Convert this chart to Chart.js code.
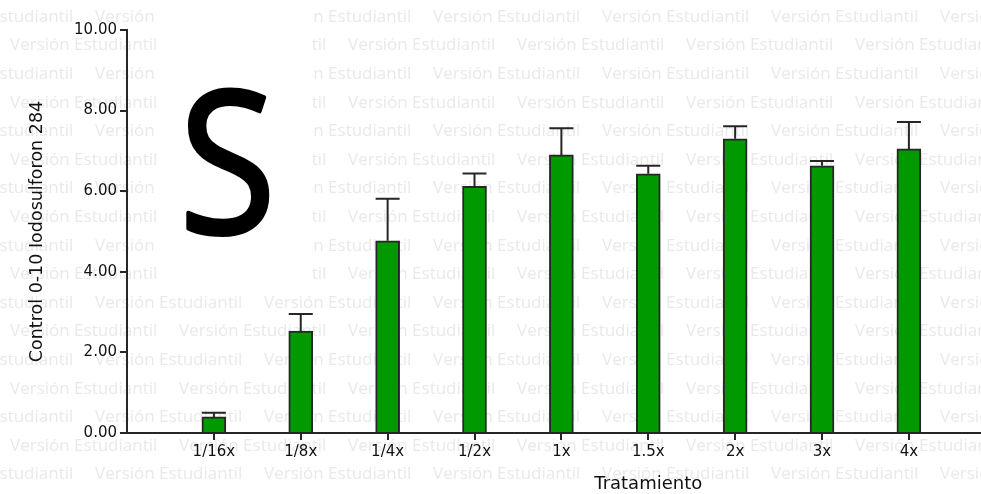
<!DOCTYPE html>
<html>
<head>
<meta charset="utf-8">
<script src="https://cdn.jsdelivr.net/npm/chart.js@4.4.0/dist/chart.umd.min.js"></script>
<style>
  html, body { margin: 0; padding: 0; background: #fff; }
  #wrap { width: 981px; height: 494px; }
</style>
</head>
<body>
<div id="wrap"><canvas id="chart" width="981" height="494"></canvas></div>
<script>
const treatments = ["1/16x", "1/8x", "1/4x", "1/2x", "1x", "1.5x", "2x", "3x", "4x"];
const means = [0.40, 2.53, 4.77, 6.12, 6.90, 6.43, 7.30, 6.63, 7.05];
const errs = [0.10, 0.42, 1.04, 0.32, 0.66, 0.20, 0.31, 0.12, 0.67];
const yTicks = [0, 2, 4, 6, 8, 10];

const watermark = "Versión Estudiantil";
const panelLetter = "S";
const yTitle = "Control 0-10 Iodosulforon 284";
const xTitle = "Tratamiento";

const ink = "#262626";
const labelFont = "DejaVu Sans";

// repeated light watermark rows, plus the white panel with the big letter
const backdrop = {
  id: "backdrop",
  beforeDraw(chart) {
    const { ctx, width, height } = chart;
    ctx.save();
    ctx.fillStyle = "#fff";
    ctx.fillRect(0, 0, width, height);

    ctx.fillStyle = "#e9e9ec";
    ctx.font = "17px 'Open Sans'";
    ctx.textBaseline = "middle";
    ctx.textAlign = "left";
    for (let i = 0; i < 18; i++) {
      const y = 17 + i * 28.6;
      let x = (i % 2 === 0 ? 95 : 10) - 169;
      while (x < width) {
        ctx.fillText(watermark, x, y);
        x += 169;
      }
    }

    ctx.fillStyle = "#fff";
    ctx.fillRect(158, 0, 154, 290);

    ctx.fillStyle = "#000";
    ctx.strokeStyle = "#000";
    ctx.lineWidth = 4;
    ctx.lineJoin = "round";
    ctx.font = "200px 'Open Sans'";
    ctx.textBaseline = "alphabetic";
    const m = ctx.measureText(panelLetter);
    const w = m.actualBoundingBoxLeft + m.actualBoundingBoxRight + 4;
    const h = m.actualBoundingBoxAscent + m.actualBoundingBoxDescent + 4;
    ctx.translate(186, 88);
    ctx.scale(84 / w, 149 / h);
    ctx.fillText(panelLetter, m.actualBoundingBoxLeft + 2, m.actualBoundingBoxAscent + 2);
    ctx.strokeText(panelLetter, m.actualBoundingBoxLeft + 2, m.actualBoundingBoxAscent + 2);
    ctx.restore();
  },
};

// upward SEM whiskers with a cap
const errorBars = {
  id: "errorBars",
  afterDatasetsDraw(chart) {
    const { ctx } = chart;
    const yScale = chart.scales.y;
    const meta = chart.getDatasetMeta(0);
    ctx.save();
    ctx.strokeStyle = ink;
    ctx.lineWidth = 2;
    meta.data.forEach((bar, i) => {
      const top = yScale.getPixelForValue(means[i] + errs[i]);
      ctx.beginPath();
      ctx.moveTo(bar.x, bar.y);
      ctx.lineTo(bar.x, top);
      ctx.moveTo(bar.x - 12, top);
      ctx.lineTo(bar.x + 12, top);
      ctx.stroke();
    });
    ctx.restore();
  },
};

// x axis title sits under the 1.5x group
const xAxisTitle = {
  id: "xAxisTitle",
  afterDraw(chart) {
    const { ctx } = chart;
    ctx.save();
    ctx.fillStyle = "#111";
    ctx.font = `18px '${labelFont}'`;
    ctx.textAlign = "center";
    ctx.textBaseline = "middle";
    ctx.fillText(xTitle, chart.scales.x.getPixelForValue(6), 484);
    ctx.restore();
  },
};

new Chart(document.getElementById("chart"), {
  type: "bar",
  data: {
    datasets: [{
      data: means.map((v, i) => ({ x: i + 1, y: v })),
      backgroundColor: "#009900",
      borderColor: ink,
      borderWidth: 2,
      barThickness: 24,
    }],
  },
  options: {
    responsive: false,
    animation: false,
    layout: { padding: { top: 30, right: 0, bottom: 0, left: 0 } },
    plugins: { legend: { display: false }, tooltip: { enabled: false } },
    scales: {
      x: {
        type: "linear",
        min: 0,
        max: 9.83,
        offset: false,
        afterBuildTicks: (s) => { s.ticks = treatments.map((_, i) => ({ value: i + 1 })); },
        afterFit: (s) => { s.height = 61; },
        ticks: {
          autoSkip: false,
          maxRotation: 0,
          padding: 3,
          color: "#111",
          font: { family: labelFont, size: 15 },
          callback: (v) => treatments[v - 1],
        },
        grid: { drawOnChartArea: false, offset: false, tickLength: 7, color: ink, lineWidth: 2 },
        border: { color: ink, width: 2 },
      },
      y: {
        min: 0,
        max: 10,
        afterBuildTicks: (s) => { s.ticks = yTicks.map((v) => ({ value: v })); },
        afterFit: (s) => { s.width = 127; },
        ticks: {
          padding: 3,
          color: "#111",
          font: { family: labelFont, size: 15 },
          callback: (v) => Number(v).toFixed(2),
        },
        grid: { drawOnChartArea: false, tickLength: 7, color: ink, lineWidth: 2 },
        border: { color: ink, width: 2 },
        title: {
          display: true,
          text: yTitle,
          color: "#111",
          font: { family: labelFont, size: 17.5 },
          padding: { top: 27, bottom: 0 },
        },
      },
    },
  },
  plugins: [backdrop, errorBars, xAxisTitle],
});
</script>
</body>
</html>
